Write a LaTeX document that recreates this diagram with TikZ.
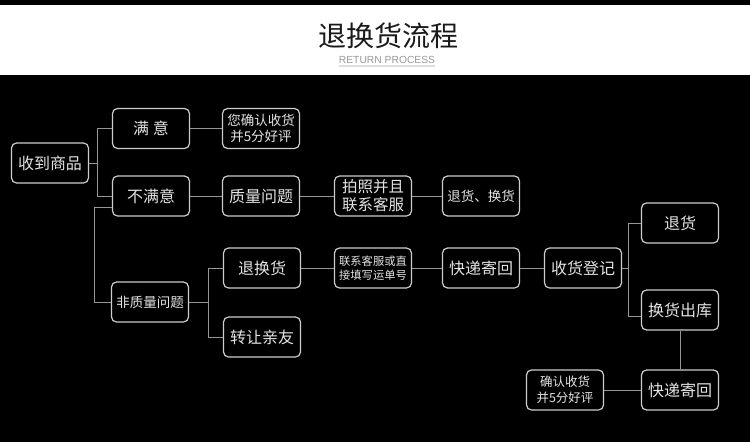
\documentclass[tikz,border=0pt]{standalone}
\usepackage{fontspec}
\setmainfont{Noto Sans CJK SC}
\newfontfamily\latinsans{Liberation Sans}
\usetikzlibrary{positioning}
\definecolor{boxline}{RGB}{205,205,205}
\definecolor{boxtext}{RGB}{228,228,228}
\definecolor{linkgray}{RGB}{150,150,150}
\definecolor{titlegray}{RGB}{25,25,25}

\begin{document}
\begin{tikzpicture}[x=1pt,y=-1pt,
  box/.style={draw=boxline,line width=1.2pt,rounded corners=5pt,fill=black,
    text=boxtext,minimum width=77pt,minimum height=40pt,inner sep=1pt,
    align=center,font=\fontsize{16}{18}\selectfont},
  smalltext/.style={font=\fontsize{13.5}{16}\selectfont},
  tinytext/.style={font=\fontsize{11.3}{14.5}\selectfont},
  link/.style={draw=linkgray,line width=0.9pt}]

% header band
\fill[black] (0,0) rectangle (750,442);
\fill[white] (0,5) rectangle (750,75);
\node[text=titlegray,font=\fontsize{28}{30}\selectfont] (title) at (388,36) {退换货流程};
\node[text=gray!80,font=\latinsans\fontsize{10.3}{11}\selectfont,inner sep=0pt]
  (sub) at (387,60) {RETURN PROCESS};
\draw[gray!25,line width=2pt]
  ([yshift=-2.5pt]sub.south west) -- ([yshift=-2.5pt]sub.south east);

% boxes
\node[box] (recv)    at (50,163)    {收到商品};
\node[box] (sat)     at (151,128.5) {满 意};
\node[box,smalltext] (conf1) at (261,128.5) {您确认收货\\并5分好评};
\node[box] (nsat)    at (151,196)   {不满意};
\node[box] (qual)    at (261,196)   {质量问题};
\node[box,font=\fontsize{15.5}{18}\selectfont] (photo) at (373,196) {拍照并且\\联系客服};
\node[box,smalltext] (retex) at (481,196) {退货、换货};
\node[box,smalltext] (nonq)  at (150,302) {非质量问题};
\node[box] (thx)     at (262,268)   {退换货};
\node[box] (give)    at (262,337)   {转让亲友};
\node[box,tinytext] (contact) at (373,268) {联系客服或直\\接填写运单号};
\node[box] (exp1)    at (481,268)   {快递寄回};
\node[box] (reg)     at (583,268)   {收货登记};
\node[box] (ret)     at (680,223)   {退货};
\node[box] (exout)   at (680,310)   {换货出库};
\node[box] (exp2)    at (680,390)   {快递寄回};
\node[box,font=\fontsize{12.5}{16}\selectfont] (conf2) at (565,390) {确认收货\\并5分好评};

% branches
\draw[link] (recv.east) -- ++(8,0) coordinate (fork1) |- (sat.west);
\draw[link] (fork1) |- (nsat.west);
\draw[link] ([yshift=-11pt]nsat.west) -| ([xshift=-16pt]nonq.west) -- (nonq.west);
\draw[link] (nonq.east) -- ++(19,0) coordinate (fork2) |- (thx.west);
\draw[link] (fork2) |- (give.west);
\draw[link] (reg.east) -- ++(6,0) coordinate (fork3) |- (ret.west);
\draw[link] (fork3) |- ([yshift=-6pt]exout.west);

% straight links
\draw[link] (sat) -- (conf1);
\draw[link] (nsat) -- (qual);
\draw[link] (qual) -- (photo);
\draw[link] (photo) -- (retex);
\draw[link] (thx) -- (contact);
\draw[link] (contact) -- (exp1);
\draw[link] (exp1) -- (reg);
\draw[link] (exout) -- (exp2);
\draw[link] (conf2) -- (exp2);

\end{tikzpicture}
\end{document}
